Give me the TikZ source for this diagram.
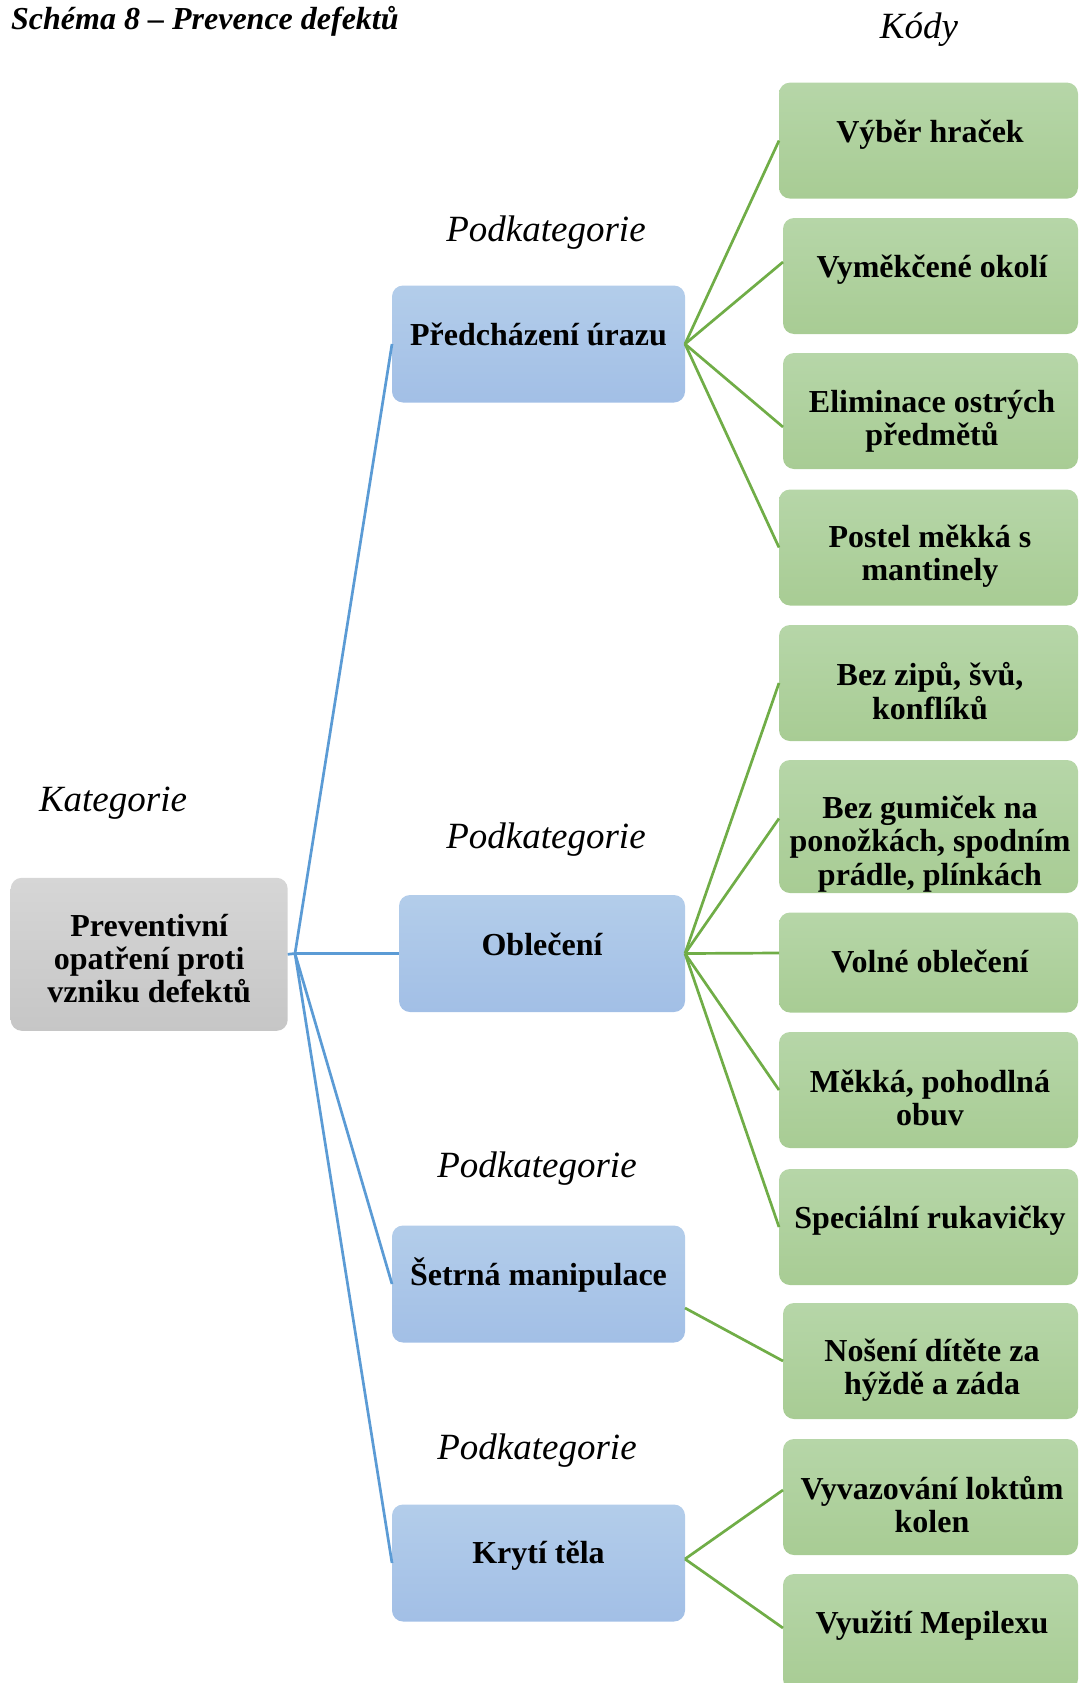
\documentclass[tikz,border=0pt]{standalone}
\usepackage{fontspec}
\setmainfont{Liberation Serif}
\usetikzlibrary{calc}

\definecolor{bluetop}{HTML}{B3CDEA}
\definecolor{bluebot}{HTML}{A2BFE6}
\definecolor{greentop}{HTML}{B6D6A8}
\definecolor{greenbot}{HTML}{A8CC94}
\definecolor{graytop}{HTML}{D6D6D6}
\definecolor{graybot}{HTML}{C6C6C6}
\definecolor{blueline}{HTML}{5B9BD5}
\definecolor{greenline}{HTML}{70AD47}

\tikzset{
  boxbase/.style={rectangle, rounded corners=11pt, inner sep=0pt, outer sep=0pt, draw=none},
  rootbox/.style={boxbase, top color=graytop, bottom color=graybot},
  subbox/.style={boxbase, top color=bluetop, bottom color=bluebot, minimum height=117pt},
  codebox/.style={boxbase, top color=greentop, bottom color=greenbot},
  boxtext/.style={inner sep=0pt, align=center, font=\bfseries\fontsize{32}{33.3}\selectfont},
  heading/.style={inner sep=0pt, font=\itshape\fontsize{37}{40}\selectfont},
  catline/.style={draw=blueline, line width=2.7pt},
  codeline/.style={draw=greenline, line width=2.7pt}
}

\begin{document}
\begin{tikzpicture}[x=1pt, y=-1pt]
\useasboundingbox (0,0) rectangle (1080,1683);
\clip (0,0) rectangle (1080,1683);

% headings
\node[inner sep=0pt, anchor=west, font=\bfseries\itshape\fontsize{32}{34}\selectfont] (title) at (11,21) {Schéma 8 – Prevence defektů};
\node[heading] (hcodes) at (919,30) {Kódy};
\node[heading] (hcat) at (113,803) {Kategorie};
\node[heading] (hsub1) at (546,233) {Podkategorie};
\node[heading] (hsub2) at (546,840) {Podkategorie};
\node[heading] (hsub3) at (537,1169) {Podkategorie};
\node[heading] (hsub4) at (537,1451) {Podkategorie};

% boxes
\node[rootbox, minimum width=277pt, minimum height=153pt] (root) at (149.2,954.3) {};
\node[subbox, minimum width=293pt] (b1) at (538.5,344) {};
\node[subbox, minimum width=286pt] (b2) at (542,953.5) {};
\node[subbox, minimum width=293pt] (b3) at (538.5,1284) {};
\node[subbox, minimum width=293pt] (b4) at (538.5,1563) {};

\node[codebox, minimum width=299pt, minimum height=116pt] (g1) at (928.5,140.6) {};
\node[codebox, minimum width=295pt, minimum height=116pt] (g2) at (930.5,276) {};
\node[codebox, minimum width=295pt, minimum height=116pt] (g3) at (930.5,411) {};
\node[codebox, minimum width=299pt, minimum height=116pt] (g4) at (928.5,547.5) {};
\node[codebox, minimum width=299pt, minimum height=116pt] (g5) at (928.5,683) {};
\node[codebox, minimum width=299pt, minimum height=133pt] (g6) at (928.5,826.5) {};
\node[codebox, minimum width=299pt, minimum height=100pt] (g7) at (928.5,962.5) {};
\node[codebox, minimum width=299pt, minimum height=116pt] (g8) at (928.5,1090) {};
\node[codebox, minimum width=299pt, minimum height=116pt] (g9) at (928.5,1227) {};
\node[codebox, minimum width=295pt, minimum height=116pt] (g10) at (930.5,1361) {};
\node[codebox, minimum width=295pt, minimum height=116pt] (g11) at (930.5,1497) {};
\node[codebox, minimum width=295pt, minimum height=116pt] (g12) at (930.5,1632) {};

% connectors: category to subcategories
\coordinate (hub) at (295,953.5);
\path[catline] (root.east) -- (hub);
\path[catline] (hub) -- (b1.west);
\path[catline] (hub) -- (b2.west);
\path[catline] (hub) -- (b3.west);
\path[catline] (hub) -- (b4.west);

% connectors: subcategories to codes
\path[codeline] (b1.east) -- (g1.west);
\path[codeline] (b1.east) -- ([yshift=14pt]g2.west);
\path[codeline] (b1.east) -- ([yshift=-16pt]g3.west);
\path[codeline] (b1.east) -- (g4.west);
\path[codeline] (b2.east) -- (g5.west);
\path[codeline] (b2.east) -- ([yshift=8pt]g6.west);
\path[codeline] (b2.east) -- ([yshift=9.5pt]g7.west);
\path[codeline] (b2.east) -- (g8.west);
\path[codeline] (b2.east) -- (g9.west);
\path[codeline] ([yshift=-24pt]b3.east) -- (g10.west);
\path[codeline] ([yshift=4pt]b4.east) -- ([yshift=7pt]g11.west);
\path[codeline] ([yshift=4pt]b4.east) -- ([yshift=4pt]g12.west);

% box texts
\node[boxtext] (troot) at (149.2,958.7) {Preventivní\\opatření proti\\vzniku defektů};
\node[boxtext] (tb1) at (538.5,334) {Předcházení úrazu};
\node[boxtext] (tb2) at (542,944) {Oblečení};
\node[boxtext] (tb3) at (538.5,1275) {Šetrná manipulace};
\node[boxtext] (tb4) at (538.5,1555.6) {Krytí těla};

\node[boxtext] (tg1) at (930,135) {Výběr hraček};
\node[boxtext] (tg2) at (932,270) {Vyměkčené okolí};
\node[boxtext] (tg3) at (932,421) {Eliminace ostrých\\předmětů};
\node[boxtext] (tg4) at (930,556.5) {Postel měkká s\\mantinely};
\node[boxtext] (tg5) at (930,691) {Bez zipů, švů,\\konflíků};
\node[boxtext] (tg6) at (930,844) {Bez gumiček na\\ponožkách, spodním\\prádle, plínkách};
\node[boxtext] (tg7) at (930,961.5) {Volné oblečení};
\node[boxtext] (tg8) at (930,1098) {Měkká, pohodlná\\obuv};
\node[boxtext] (tg9) at (930,1221) {Speciální rukavičky};
\node[boxtext] (tg10) at (932,1370) {Nošení dítěte za\\hýždě a záda};
\node[boxtext] (tg11) at (932,1504.5) {Vyvazování loktům\\kolen};
\node[boxtext] (tg12) at (932,1626) {Využití Mepilexu};
\end{tikzpicture}
\end{document}
